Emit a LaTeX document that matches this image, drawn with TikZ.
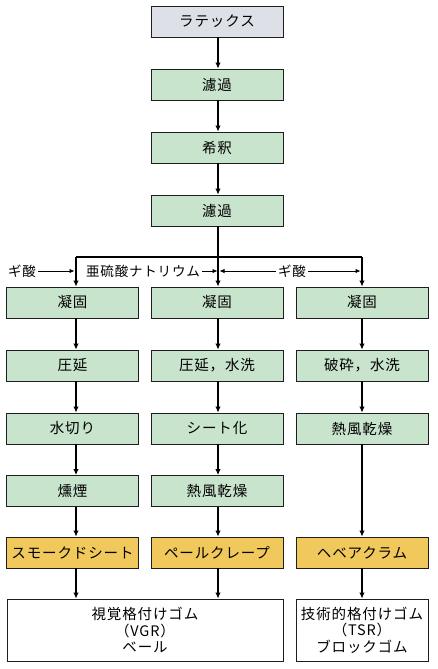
\documentclass[tikz,border=0pt]{standalone}
\usepackage{fontspec}
\setmainfont{Noto Sans CJK JP}[LetterSpace=6]
\usetikzlibrary{arrows.meta}
\definecolor{greyfill}{RGB}{221,224,230}
\definecolor{greenfill}{RGB}{200,228,205}
\definecolor{yellowfill}{RGB}{240,200,92}
\definecolor{edge}{RGB}{30,30,30}
\begin{document}
\begin{tikzpicture}[x=1pt,y=-1pt,
  box/.style={draw=edge, line width=0.8pt, minimum width=132pt, minimum height=31pt,
    inner sep=0pt, align=center, font=\fontsize{14.5}{16.5}\selectfont},
  greybox/.style={box, fill=greyfill},
  greenbox/.style={box, fill=greenfill},
  yellowbox/.style={box, fill=yellowfill},
  whitebox/.style={box, fill=white, minimum height=62pt},
  lbl/.style={inner xsep=2pt, inner ysep=0pt, font=\fontsize{13.5}{15}\selectfont},
  arr/.style={line width=1.3pt, -{Latex[length=6pt,width=5.5pt]}},
  sarr/.style={line width=0.8pt, -{Latex[length=5pt,width=4.5pt]}},
  bus/.style={line width=1.3pt}
]
\useasboundingbox (0,0) rectangle (437,669);

% main column
\node[greybox]  (latex) at (217,21.5)  {ラテックス};
\node[greenbox] (f1)    at (217,84.5)  {濾過};
\node[greenbox] (dil)   at (217,147.5) {希釈};
\node[greenbox] (f2)    at (217,210.5) {濾過};

% left column
\node[greenbox] (l1) at (72.5,302.5) {凝固};
\node[greenbox] (l2) at (72.5,365.5) {圧延};
\node[greenbox] (l3) at (72.5,428.5) {水切り};
\node[greenbox] (l4) at (72.5,491)   {燻煙};
\node[yellowbox] (l5) at (72.5,552.5) {スモークドシート};

% middle column
\node[greenbox] (m1) at (217,302.5) {凝固};
\node[greenbox] (m2) at (217,365.5) {圧延，水洗};
\node[greenbox] (m3) at (217,428.5) {シート化};
\node[greenbox] (m4) at (217,491)   {熱風乾燥};
\node[yellowbox] (m5) at (217,552.5) {ペールクレープ};

% right column
\node[greenbox] (r1) at (362,302.5) {凝固};
\node[greenbox] (r2) at (362,365.5) {破砕，水洗};
\node[greenbox] (r3) at (362,428.5) {熱風乾燥};
\node[yellowbox] (r5) at (362,552.5) {ヘベアクラム};

% products
\node[whitebox, minimum width=276pt] (vgr) at (145,630) {視覚格付けゴム\\（VGR）\\ベール};
\node[whitebox] (tsr) at (362,630) {技術的格付けゴム\\（TSR）\\ブロックゴム};

% main flow
\draw[arr] ([xshift=1]latex.south) -- ([xshift=1]f1.north);
\draw[arr] ([xshift=1]f1.south) -- ([xshift=1]dil.north);
\draw[arr] ([xshift=1]dil.south) -- ([xshift=1]f2.north);
\draw[arr] ([xshift=1]f2.south) -- ([xshift=1]m1.north);

% distribution bus
\coordinate (busL) at (76,257);
\coordinate (busR) at (362,257);
\draw[bus] (busL) -- (busR);
\draw[arr] (busL) -- (busL |- l1.north);
\draw[arr] (busR) -- (busR |- r1.north);

% additives
\node[lbl] (ga1) at (22,271) {ギ酸};
\node[lbl] (sod) at (143,271) {亜硫酸ナトリウム};
\node[lbl] (ga2) at (292,271) {ギ酸};
\coordinate (tL) at (74.5,271);
\coordinate (tM1) at (217.5,271);
\coordinate (tM2) at (219.5,271);
\coordinate (tR) at (360.5,271);
\draw[sarr] (ga1.east) -- (tL);
\draw[sarr] (sod.east) -- (tM1);
\draw[sarr] (ga2.west) -- (tM2);
\draw[sarr] (ga2.east) -- (tR);

% left column arrows
\draw[arr] ([xshift=3.5]l1.south) -- ([xshift=3.5]l2.north);
\draw[arr] ([xshift=3.5]l2.south) -- ([xshift=3.5]l3.north);
\draw[arr] ([xshift=3.5]l3.south) -- ([xshift=3.5]l4.north);
\draw[arr] ([xshift=3.5]l4.south) -- ([xshift=3.5]l5.north);
\draw[arr] ([xshift=3.5]l5.south) -- ([xshift=3.5]l5.south |- vgr.north);

% middle column arrows
\draw[arr] ([xshift=1]m1.south) -- ([xshift=1]m2.north);
\draw[arr] ([xshift=1]m2.south) -- ([xshift=1]m3.north);
\draw[arr] ([xshift=1]m3.south) -- ([xshift=1]m4.north);
\draw[arr] ([xshift=1]m4.south) -- ([xshift=1]m5.north);
\draw[arr] ([xshift=1]m5.south) -- ([xshift=1]m5.south |- vgr.north);

% right column arrows
\draw[arr] (r1.south) -- (r2.north);
\draw[arr] (r2.south) -- (r3.north);
\draw[arr] (r3.south) -- (r5.north);
\draw[arr] (r5.south) -- (tsr.north);
\end{tikzpicture}
\end{document}
